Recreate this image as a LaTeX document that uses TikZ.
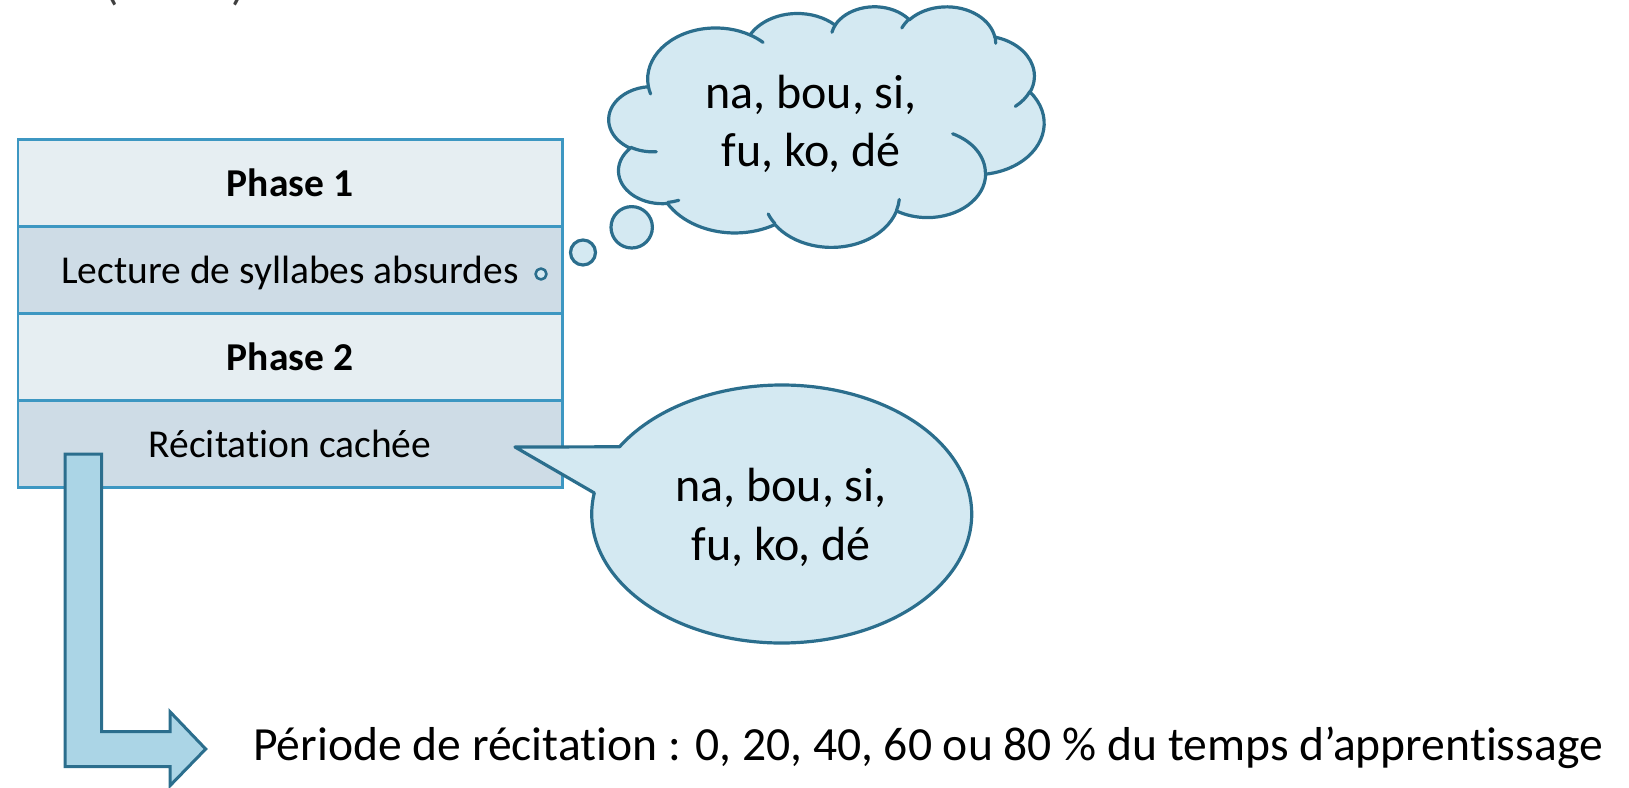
\documentclass[tikz,border=0pt]{standalone}
\usepackage{fontspec}
\setmainfont{Carlito}[Ligatures={NoCommon,NoRequired,NoContextual}]
\usetikzlibrary{calc}
\definecolor{tblborder}{HTML}{3D97C2}
\definecolor{phasefill}{HTML}{E6EEF2}
\definecolor{subfill}{HTML}{CEDCE6}
\definecolor{bubblefill}{HTML}{D4E9F2}
\definecolor{bubbleline}{HTML}{2B6E8D}
\definecolor{arrowfill}{HTML}{ABD5E6}
\definecolor{parencol}{HTML}{404040}
\newcommand\ooset[5]{%
  \pgfmathsetmacro\ootmpa{atan2((#2)*sin(#4),(#3)*cos(#4))}%
  \pgfmathsetmacro\ootmpb{atan2((#2)*sin((#4)+(#5)),(#3)*cos((#4)+(#5)))}%
  \pgfmathsetmacro\ootmpb{ifthenelse(\ootmpb<\ootmpa,\ootmpb+360,\ootmpb)}%
  \expandafter\global\expandafter\let\csname oos#1\endcsname\ootmpa
  \expandafter\global\expandafter\let\csname ooe#1\endcsname\ootmpb}
\begin{document}
\begin{tikzpicture}[x=1pt,y=-1pt,
  rowbox/.style={rectangle, draw=tblborder, line width=2.5pt, minimum width=544.5pt, minimum height=87pt, inner sep=0pt,
     text height=36.9pt, text depth=9.9pt, font=\fontsize{39.5}{47}\selectfont},
  phaserow/.style={rowbox, fill=phasefill, font=\fontsize{39.5}{47}\selectfont\bfseries},
  subrow/.style={rowbox, fill=subfill},
  bubble/.style={fill=bubblefill, draw=bubbleline, line width=3.2pt, line join=round},
  bubbleline/.style={draw=bubbleline, line width=3.2pt, line cap=round, fill=none},
  bigtext/.style={anchor=base, inner sep=0pt, font=\fontsize{48}{58}\selectfont},
  arrowsty/.style={fill=arrowfill, draw=bubbleline, line width=3pt, line join=miter},
  parensty/.style={anchor=base west, inner sep=0pt, text=parencol, font=\fontsize{47}{56}\selectfont},
  bottomtext/.style={anchor=base west, inner sep=0pt, font=\fontsize{47.6}{56}\selectfont}
]
\useasboundingbox (0,0) rectangle (1629,787);
% cloud arc angles (DrawingML visual angles -> parametric)
\ooset{A}{15.632}{21.273}{-190.487}{123.781}
\ooset{B}{12.345}{16.822}{-144.102}{89.945}
\ooset{C}{10.104}{13.762}{-145.808}{99.723}
\ooset{D}{11.243}{15.266}{-130.986}{117.242}
\ooset{E}{12.345}{16.836}{-78.709}{109.027}
\ooset{F}{15.683}{21.343}{-46.267}{130.269}
\ooset{G}{13.391}{18.211}{0.625}{114.033}
\ooset{H}{15.630}{21.331}{22.452}{115.173}
\ooset{I}{17.870}{24.405}{66.243}{75.711}
\ooset{J}{10.093}{13.699}{-274.942}{146.736}
\ooset{K}{10.058}{13.762}{-246.829}{152.519}
\ooset{L}{10.058}{13.762}{86.742}{26.430}
\ooset{M}{10.093}{13.699}{73.610}{11.447}
\ooset{N}{15.630}{21.331}{137.624}{14.081}
\ooset{O}{15.630}{21.331}{6.453}{15.998}
\ooset{P}{13.391}{18.211}{-70.292}{70.917}
\ooset{Q}{12.345}{16.836}{30.318}{27.752}
\ooset{R}{11.243}{15.266}{-13.744}{14.859}
\ooset{S}{11.243}{15.266}{-149.181}{18.195}
\ooset{T}{10.104}{13.762}{-163.494}{17.686}
\ooset{U}{15.632}{21.273}{-66.707}{12.319}
\ooset{V}{15.632}{21.273}{157.654}{11.858}

% clipped heading remnant
\node[parensty] (lparen) at (104.5,-1) {(};
\node[parensty] (rparen) at (231,-1) {)};

% table
\node[phaserow] (r1) at (290,183) {Phase 1};
\node[subrow]   (r2) at (290,270) {Lecture de syllabes absurdes};
\node[phaserow] (r3) at (290,357) {Phase 2};
\node[subrow]   (r4) at (290,444) {Récitation cachée};

% bent arrow
\path[arrowsty] (65,454) -- (101.7,454) -- (101.7,731.7) -- (170,731.7) -- (170,711.7)
  -- (205.7,749) -- (170,785.7) -- (170,766.7) -- (65,766.7) -- cycle;
\node[bottomtext] (period) at (253,760) {Période de récitation : 0, 20, 40, 60 ou 80 \% du temps d’apprentissage};

% speech callout
\coordinate (ctip) at (515,447);
\coordinate (cc) at (781.7,514);
\path[bubble] (ctip) -- ($(cc)+({190*cos(-148.6)},{129*sin(-148.6)})$)
  arc[x radius=190, y radius=129, start angle=-148.6, end angle=189.4] -- cycle;
\node[bigtext] (say1) at (781,501.7) {na, bou, si,};
\node[bigtext] (say2) at (781,560) {fu, ko, dé};

% thought cloud
\begin{scope}[shift={(609,6)}, x=4.35pt, y=-2.405pt]
\path[bubble] (9.028,33.264)
  arc[x radius=15.632, y radius=21.273, start angle=\oosA, end angle=\ooeA]
  arc[x radius=12.345, y radius=16.822, start angle=\oosB, end angle=\ooeB]
  arc[x radius=10.104, y radius=13.762, start angle=\oosC, end angle=\ooeC]
  arc[x radius=11.243, y radius=15.266, start angle=\oosD, end angle=\ooeD]
  arc[x radius=12.345, y radius=16.836, start angle=\oosE, end angle=\ooeE]
  arc[x radius=15.683, y radius=21.343, start angle=\oosF, end angle=\ooeF]
  arc[x radius=13.391, y radius=18.211, start angle=\oosG, end angle=\ooeG]
  arc[x radius=15.630, y radius=21.331, start angle=\oosH, end angle=\ooeH]
  arc[x radius=17.870, y radius=24.405, start angle=\oosI, end angle=\ooeI]
  arc[x radius=10.093, y radius=13.699, start angle=\oosJ, end angle=\ooeJ]
  arc[x radius=10.058, y radius=13.762, start angle=\oosK, end angle=\ooeK]
  -- cycle;
\path[bubbleline]
  (10.863,60.595) arc[x radius=10.058, y radius=13.762, start angle=\oosL, end angle=\ooeL]
  (16.037,80.785) arc[x radius=10.093, y radius=13.699, start angle=\oosM, end angle=\ooeM]
  (38.144,90.486) arc[x radius=15.630, y radius=21.331, start angle=\oosN, end angle=\ooeN]
  (66.729,80.442) arc[x radius=15.630, y radius=21.331, start angle=\oosO, end angle=\ooeO]
  (79.002,53.134) arc[x radius=13.391, y radius=18.211, start angle=\oosP, end angle=\ooeP]
  (96.755,35.542) arc[x radius=12.345, y radius=16.836, start angle=\oosQ, end angle=\ooeQ]
  (88.713,12.560) arc[x radius=11.243, y radius=15.266, start angle=\oosR, end angle=\ooeR]
  (67.310,9.148)  arc[x radius=11.243, y radius=15.266, start angle=\oosS, end angle=\ooeS]
  (51.252,10.926) arc[x radius=10.104, y radius=13.762, start angle=\oosT, end angle=\ooeT]
  (32.407,12.019) arc[x radius=15.632, y radius=21.273, start angle=\oosU, end angle=\ooeU]
  (9.553,36.549)  arc[x radius=15.632, y radius=21.273, start angle=\oosV, end angle=\ooeV];
\end{scope}
\node[bigtext] (think1) at (811,108) {na, bou, si,};
\node[bigtext] (think2) at (811,166) {fu, ko, dé};

% thought bubbles
\node[bubble, circle, inner sep=0pt, minimum size=41.4pt] (b3) at (631.7,227.3) {};
\node[bubble, circle, inner sep=0pt, minimum size=25pt] (b2) at (583,252.5) {};
\node[bubble, circle, inner sep=0pt, minimum size=11pt, line width=2.6pt] (b1) at (541,274) {};
\end{tikzpicture}
\end{document}
